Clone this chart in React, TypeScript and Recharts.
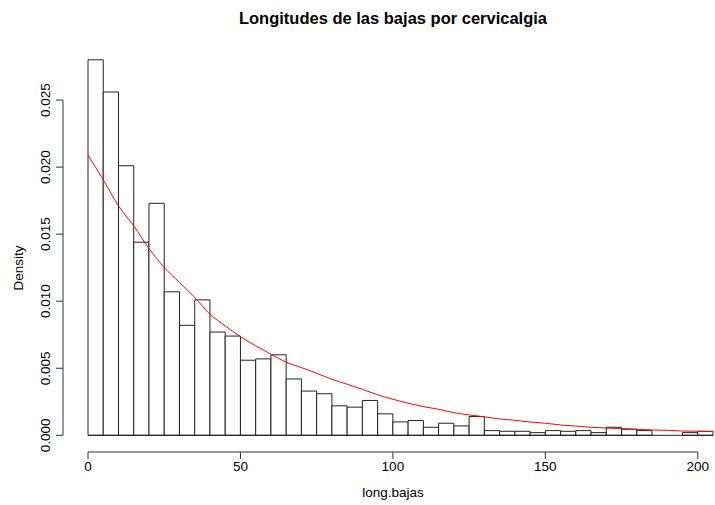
import React from "react";
import { ComposedChart, Line, XAxis, YAxis, ReferenceArea, ReferenceLine } from "recharts";

// histogram bins (left edge, width 5) and their density
const BIN_START = [0, 5, 10, 15, 20, 25, 30, 35, 40, 45, 50, 55, 60, 65, 70, 75, 80, 85, 90, 95, 100, 105, 110, 115, 120, 125, 130, 135, 140, 145, 150, 155, 160, 165, 170, 175, 180, 185, 190, 195, 200];
const BIN_DENSITY = [0.028, 0.0256, 0.0201, 0.0144, 0.0173, 0.0107, 0.0082, 0.0101, 0.0077, 0.0074, 0.0056, 0.0057, 0.006, 0.0042, 0.0033, 0.0031, 0.0022, 0.0021, 0.0026, 0.0016, 0.001, 0.0011, 0.0006, 0.0009, 0.0007, 0.0014, 0.00035, 0.0003, 0.0003, 0.0002, 0.00035, 0.0003, 0.00035, 0.0002, 0.0006, 0.00045, 0.00035, 0, 0, 0.0002, 0.0003];
const BIN_WIDTH = 5;

// fitted density (red curve)
const CURVE_X = [0, 5, 10, 15, 20, 25, 30, 35, 40, 45, 50, 55, 60, 65, 70, 75, 80, 85, 90, 95, 100, 105, 110, 115, 120, 125, 130, 135, 140, 145, 150, 155, 160, 165, 170, 175, 180, 185, 190, 195, 200, 205];
const CURVE_DENSITY = [0.0209, 0.01905, 0.01711, 0.01562, 0.01393, 0.01251, 0.0114, 0.01028, 0.00903, 0.00816, 0.00736, 0.00667, 0.00605, 0.00545, 0.00505, 0.00463, 0.00418, 0.00381, 0.00343, 0.00302, 0.00269, 0.00239, 0.00214, 0.00194, 0.00169, 0.00152, 0.00138, 0.00122, 0.00112, 0.00099, 0.0009, 0.00077, 0.00069, 0.0006, 0.00054, 0.0005, 0.00045, 0.0004, 0.00037, 0.00032, 0.0003, 0.00028];

const X_TICKS = [0, 50, 100, 150, 200];
const Y_TICKS = [0, 0.005, 0.01, 0.015, 0.02, 0.025];

const X_DOMAIN: [number, number] = [-8.2, 205];
const Y_DOMAIN: [number, number] = [-0.001245, 0.03];

const FONT = "'Liberation Sans', Arial, Helvetica, sans-serif";
const INK = "#000";

const curveData = CURVE_X.map((x, i) => ({ x, d: CURVE_DENSITY[i] }));

const YTick = (props: any) => {
  const { x, y, payload } = props;
  const bx = x - 4;
  return (
    <text x={bx} y={y} transform={`rotate(-90, ${bx}, ${y})`} textAnchor="middle" fill={INK} fontSize={13.5} fontFamily={FONT}>
      {Number(payload.value).toFixed(3)}
    </text>
  );
};

export default function App() {
  return (
    <div style={{ position: "absolute", left: 0, top: 0, width: 715, height: 505, background: "#fff", overflow: "hidden" }}>
      <div style={{ position: "absolute", top: 10, left: 71, width: 644, textAlign: "center", fontFamily: FONT, fontWeight: "bold", fontSize: 16.5, lineHeight: 1, color: INK }}>
        Longitudes de las bajas por cervicalgia
      </div>
      <ComposedChart width={715} height={505} data={curveData} margin={{ top: 33, right: 2, bottom: 23, left: 3 }}>
        <XAxis
          dataKey="x"
          type="number"
          domain={X_DOMAIN}
          allowDataOverflow
          ticks={X_TICKS}
          axisLine={false}
          tickSize={7}
          tickLine={{ stroke: "#333" }}
          tick={{ fill: INK, fontSize: 13.5, fontFamily: FONT }}
          height={30}
          label={() => (
            <text x={393} y={497} textAnchor="middle" fill={INK} fontSize={13.5} fontFamily={FONT}>long.bajas</text>
          )}
        />
        <YAxis
          type="number"
          domain={Y_DOMAIN}
          allowDataOverflow
          ticks={Y_TICKS}
          axisLine={false}
          tickSize={7}
          tickLine={{ stroke: "#333" }}
          tick={<YTick />}
          width={60}
          label={() => (
            <text x={23} y={268} transform="rotate(-90, 23, 268)" textAnchor="middle" fill={INK} fontSize={13.5} fontFamily={FONT}>Density</text>
          )}
        />
        {BIN_START.map((lo, i) =>
          BIN_DENSITY[i] > 0 ? (
            <ReferenceArea key={lo} x1={lo} x2={lo + BIN_WIDTH} y1={0} y2={BIN_DENSITY[i]} fill="#fff" fillOpacity={1} stroke="#222" strokeWidth={1} ifOverflow="visible" />
          ) : null
        )}
        <ReferenceLine segment={[{ x: BIN_START[0], y: 0 }, { x: BIN_START[BIN_START.length - 1] + BIN_WIDTH, y: 0 }]} stroke="#222" ifOverflow="visible" />
        <ReferenceLine segment={[{ x: X_TICKS[0], y: Y_DOMAIN[0] }, { x: X_TICKS[X_TICKS.length - 1], y: Y_DOMAIN[0] }]} stroke="#333" ifOverflow="visible" />
        <ReferenceLine segment={[{ x: X_DOMAIN[0], y: Y_TICKS[0] }, { x: X_DOMAIN[0], y: Y_TICKS[Y_TICKS.length - 1] }]} stroke="#333" ifOverflow="visible" />
        <Line type="monotone" dataKey="d" stroke="#ff0000" strokeWidth={1} dot={false} activeDot={false} isAnimationActive={false} />
      </ComposedChart>
    </div>
  );
}
